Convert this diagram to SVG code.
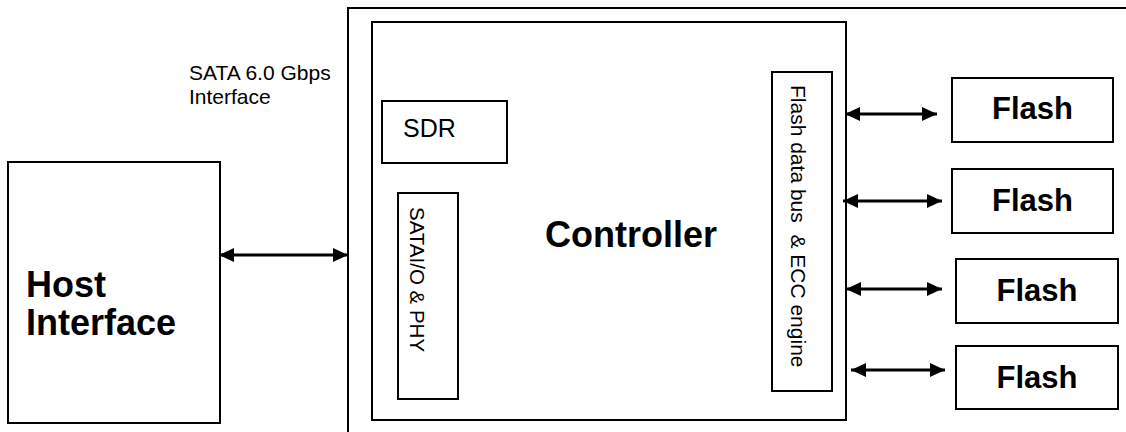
<svg xmlns="http://www.w3.org/2000/svg" width="1126" height="432" viewBox="0 0 1126 432">
<defs>
<style>
.box{fill:#fff;stroke:#000;stroke-width:2}
.frame{fill:none;stroke:#000;stroke-width:2}
.t{font-family:"Liberation Sans",Arial,sans-serif;fill:#000}
.b{font-weight:bold}
.conn{stroke:#000;stroke-width:3;fill:none;marker-start:url(#ah);marker-end:url(#ah)}
</style>
<marker id="ah" viewBox="0 0 15 14" refX="15" refY="7" markerWidth="15" markerHeight="14" orient="auto-start-reverse" markerUnits="userSpaceOnUse">
<path d="M0,0 L15,7 L0,14 Z" fill="#000"/>
</marker>
</defs>
<rect width="1126" height="432" fill="#fff"/>
<g id="frame">
<path class="frame" d="M348,432 V8 H1126"/>
</g>
<g id="sata-label">
<text class="t" x="189" y="80" font-size="21">SATA 6.0 Gbps</text>
<text class="t" x="189" y="104" font-size="21">Interface</text>
</g>
<g id="controller">
<rect class="box" x="372" y="22" width="474" height="398"/>
<text class="t b" x="545" y="247" font-size="36">Controller</text>
</g>
<g id="sdr">
<rect class="box" x="382" y="101" width="125" height="62"/>
<text class="t" x="403" y="137" font-size="25">SDR</text>
</g>
<g id="sata-io">
<rect class="box" x="398" y="193" width="60" height="206"/>
<text class="t" transform="translate(410,207) rotate(90)" font-size="20.5">SATAI/O &amp; PHY</text>
</g>
<g id="flash-bus">
<rect class="box" x="772" y="72" width="60" height="319"/>
<text class="t" transform="translate(791,85) rotate(90)" font-size="21" xml:space="preserve">Flash data bus  &amp; ECC engine</text>
</g>
<g id="host">
<rect class="box" x="8" y="162" width="212" height="261"/>
<text class="t b" x="26" y="297" font-size="36">Host</text>
<text class="t b" x="26" y="335" font-size="36">Interface</text>
</g>
<g id="flash1">
<rect class="box" x="952" y="78" width="161" height="64"/>
<text class="t b" x="1032.5" y="119" font-size="31" text-anchor="middle">Flash</text>
</g>
<g id="flash2">
<rect class="box" x="952" y="169" width="161" height="64"/>
<text class="t b" x="1032.5" y="211" font-size="31" text-anchor="middle">Flash</text>
</g>
<g id="flash3">
<rect class="box" x="956" y="259" width="162" height="64"/>
<text class="t b" x="1037" y="301" font-size="31" text-anchor="middle">Flash</text>
</g>
<g id="flash4">
<rect class="box" x="956" y="346" width="162" height="63"/>
<text class="t b" x="1037" y="388" font-size="31" text-anchor="middle">Flash</text>
</g>
<g id="connectors">
<line class="conn" x1="219" y1="255" x2="348" y2="255"/>
<line class="conn" x1="845" y1="114" x2="937" y2="114"/>
<line class="conn" x1="843" y1="201" x2="942" y2="201"/>
<line class="conn" x1="846" y1="289" x2="942" y2="289"/>
<line class="conn" x1="851" y1="370" x2="945" y2="370"/>
</g>
</svg>
